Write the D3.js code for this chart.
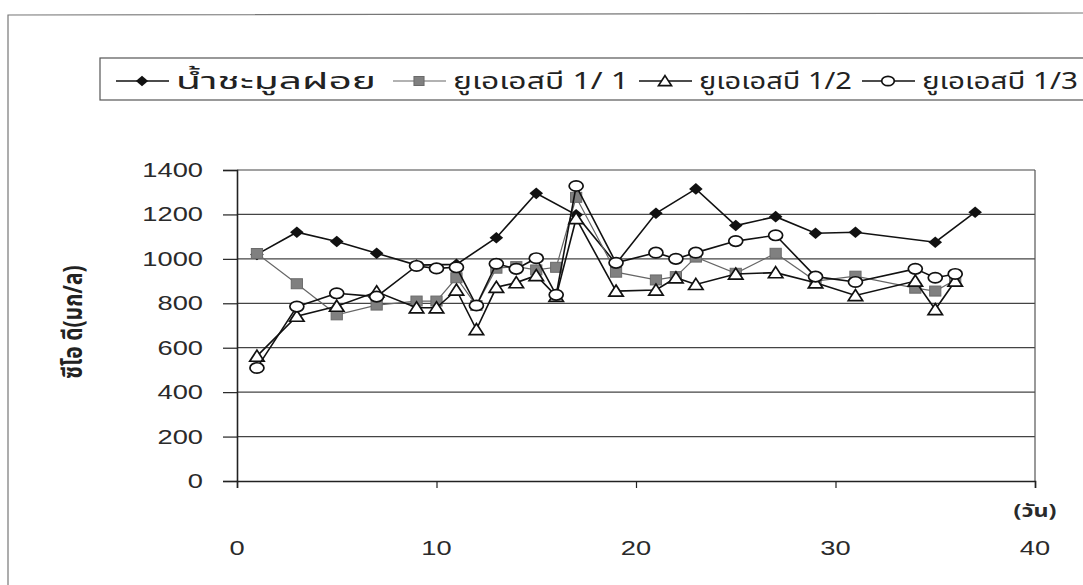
<!DOCTYPE html>
<html><head><meta charset="utf-8">
<script src="https://cdn.jsdelivr.net/npm/d3@7"></script>
<style>
html,body{margin:0;padding:0;background:#fff;}
svg{display:block;}
</style></head>
<body>
<svg id="chart" width="1083" height="585"></svg>
<script>
// ---- data ----
const seriesNames = ["น้ำชะมูลฝอย", "ยูเอเอสบี 1/ 1", "ยูเอเอสบี 1/2", "ยูเอเอสบี 1/3"];
const daysA = [1,3,5,7,9,11,13,15,17,19,21,23,25,27,29,31,35,37];
const valsA = [1020,1120,1078,1025,972,975,1095,1295,1198,978,1205,1315,1150,1190,1115,1120,1075,1210];
const daysB = [1,3,5,7,9,10,11,12,13,14,15,16,17,19,21,22,23,25,27,29,31,34,35,36];
const valsB = [1024,888,748,792,810,810,915,790,958,965,950,962,1277,940,905,920,1008,935,1025,900,922,868,855,905];
const daysC = [1,3,5,7,9,10,11,12,13,14,15,16,17,19,21,22,23,25,27,29,31,34,35,36];
const valsC = [562,742,787,852,780,780,860,682,872,893,925,832,1182,855,860,915,885,932,938,892,835,900,772,900];
const daysD = [1,3,5,7,9,10,11,12,13,14,15,16,17,19,21,22,23,25,27,29,31,34,35,36];
const valsD = [509,785,845,830,968,957,962,790,978,955,1003,838,1328,982,1028,1000,1028,1080,1106,920,896,955,915,932];
const xTicks = [0,10,20,30,40];
const yTicks = [0,200,400,600,800,1000,1200,1400];
const yTitle = "ซีโอ ดี(มก/ล)";
const xUnit = "(วัน)";

// ---- layout ----
const svg = d3.select("#chart");
const thaiFont = "'Noto Sans Thai','Loma','Garuda','DejaVu Sans','Liberation Sans',sans-serif";
const numFont = "'Liberation Sans',Arial,sans-serif";
const SX = 1.3; // horizontal stretch of the scanned original
const x = d3.scaleLinear().domain([0,40]).range([237,1035]);
const y = d3.scaleLinear().domain([0,1400]).range([481,170]);

function stretchText(g, tx, ty, anchor, txt, size, font, weight){
  return g.append("text").attr("transform",`translate(${tx},${ty}) scale(${SX},1)`)
    .attr("text-anchor",anchor).attr("font-family",font).attr("font-size",size)
    .attr("font-weight",weight||"normal").attr("fill","#2a2a2a").text(txt);
}

// outer frame
svg.append("path").attr("d","M8,585 L8,15 L1083,13").attr("fill","none").attr("stroke","#777").attr("stroke-width",1.2);

// legend box
svg.append("rect").attr("x",100).attr("y",58).attr("width",1000).attr("height",42)
  .attr("fill","none").attr("stroke","#555").attr("stroke-width",1.2);

// gridlines
svg.append("g").selectAll("line").data(yTicks.filter(d=>d>0)).join("line")
  .attr("x1",x(0)).attr("x2",x(40)).attr("y1",d=>y(d)).attr("y2",d=>y(d))
  .attr("stroke","#444").attr("stroke-width",1.2);
// right border
svg.append("line").attr("x1",x(40)).attr("x2",x(40)).attr("y1",y(1400)).attr("y2",y(0)).attr("stroke","#555").attr("stroke-width",1.2);

// y axis
const yAxis = d3.axisLeft(y).tickValues(yTicks).tickSize(14).tickFormat("");
const gy = svg.append("g").attr("transform",`translate(${x(0)},0)`).call(yAxis);
gy.select(".domain").attr("stroke","#222").attr("stroke-width",1.6);
gy.selectAll(".tick line").attr("stroke","#222").attr("stroke-width",1.2);
const gyl = svg.append("g");
yTicks.forEach(v=>stretchText(gyl, 203, y(v)+7, "end", d3.format("d")(v), 21, numFont));

// x axis
const xAxis = d3.axisBottom(x).tickValues(xTicks).tickSize(7).tickFormat("");
const gx = svg.append("g").attr("transform",`translate(0,${y(0)})`).call(xAxis);
gx.select(".domain").attr("stroke","#222").attr("stroke-width",1.6);
gx.selectAll(".tick line").attr("stroke","#222").attr("stroke-width",1.2);
const gxl = svg.append("g");
xTicks.forEach(v=>stretchText(gxl, x(v), 555, "middle", d3.format("d")(v), 21, numFont));

stretchText(svg, 1035, 517, "middle", xUnit, 18, thaiFont, "bold");

svg.append("text").attr("transform",`translate(82,322) rotate(-90) scale(1,${SX})`).attr("text-anchor","middle")
  .attr("font-family",thaiFont).attr("font-size",21).attr("font-weight","bold").attr("fill","#222").text(yTitle);

// ---- series ----
const series = [
  {days:daysA, vals:valsA, line:"#111", lw:1.6, marker:"diamond"},
  {days:daysB, vals:valsB, line:"#666", lw:1.2, marker:"square"},
  {days:daysC, vals:valsC, line:"#111", lw:1.6, marker:"triangle"},
  {days:daysD, vals:valsD, line:"#111", lw:1.6, marker:"circle"}
];
const lineGen = d3.line().x(d=>x(d[0])).y(d=>y(d[1]));

function drawMarker(g, type, cx, cy, scale){
  scale = scale||1;
  if(type==="diamond"){
    const w=6.8*scale, h=5.8*scale;
    g.append("path").attr("d",`M${cx},${cy-h}L${cx+w},${cy}L${cx},${cy+h}L${cx-w},${cy}Z`).attr("fill","#111");
  } else if(type==="square"){
    const w=5.6*scale, h=5*scale;
    g.append("rect").attr("x",cx-w).attr("y",cy-h).attr("width",2*w).attr("height",2*h)
      .attr("fill","#808080").attr("stroke","#6a6a6a").attr("stroke-width",1);
  } else if(type==="triangle"){
    const w=7.2*scale, h=6*scale;
    g.append("path").attr("d",`M${cx},${cy-h}L${cx+w},${cy+h*0.85}L${cx-w},${cy+h*0.85}Z`)
      .attr("fill","#fff").attr("stroke","#111").attr("stroke-width",1.7);
  } else {
    g.append("ellipse").attr("cx",cx).attr("cy",cy).attr("rx",7*scale).attr("ry",5.2*scale)
      .attr("fill","#fff").attr("stroke","#111").attr("stroke-width",1.7);
  }
}

series.forEach(s=>{
  const pts = s.days.map((d,i)=>[d,s.vals[i]]);
  const g = svg.append("g");
  g.append("path").datum(pts).attr("d",lineGen).attr("fill","none").attr("stroke",s.line).attr("stroke-width",s.lw);
  pts.forEach(p=>drawMarker(g,s.marker,x(p[0]),y(p[1])));
});

// ---- legend ----
const legX = [116, 393, 639, 862];
const legW = [200, 176, 153, 156];
const leg = svg.append("g");
series.forEach((s,i)=>{
  const lx = legX[i], ly = 81;
  leg.append("line").attr("x1",lx).attr("x2",lx+53).attr("y1",ly).attr("y2",ly).attr("stroke",s.line).attr("stroke-width",s.lw);
  drawMarker(leg, s.marker, lx+26, ly, 0.9);
  leg.append("text").attr("x",lx+60).attr("y",ly+8).attr("font-family",thaiFont).attr("font-size",23)
    .attr("textLength",legW[i]).attr("lengthAdjust","spacingAndGlyphs")
    .attr("fill","#222").text(seriesNames[i]);
});
</script>
</body></html>
